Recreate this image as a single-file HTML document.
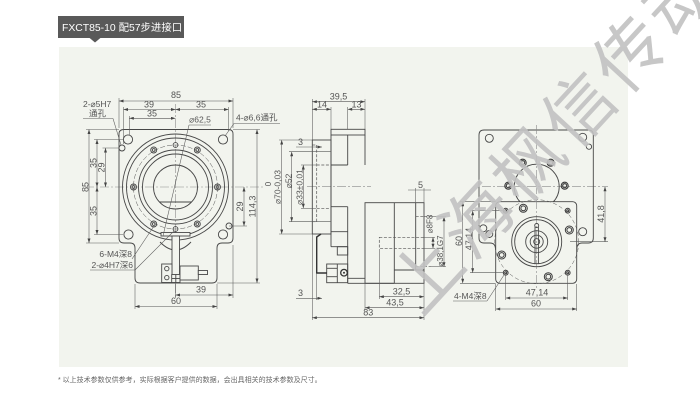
<!DOCTYPE html>
<html><head><meta charset="utf-8">
<style>
html,body{margin:0;padding:0;background:#fff;}
body{width:700px;height:402px;overflow:hidden;position:relative;}
svg{position:absolute;left:0;top:0;}
.l{stroke:#474747;stroke-width:0.9;fill:none;}
.lf{stroke:#474747;stroke-width:0.9;fill:#f2f4ee;}
.th{stroke:#5a5a5a;stroke-width:0.55;fill:none;}
.ds{stroke:#555;stroke-width:0.7;fill:none;stroke-dasharray:3 1.6;}
.cl{stroke:#8a8a8a;stroke-width:0.6;fill:none;stroke-dasharray:9 2 2 2;}
.dm{stroke:#555;stroke-width:0.55;fill:none;marker-start:url(#a);marker-end:url(#a);}
.h{stroke:#3e3e3e;stroke-width:1.1;fill:none;}
text{font-family:"Liberation Sans","DejaVu Sans","Noto Sans CJK SC",sans-serif;fill:#555;font-size:9px;}
.ck{font-family:"Liberation Sans","Noto Sans CJK SC",sans-serif;}
</style></head><body>
<svg width="700" height="402" viewBox="0 0 700 402" xmlns="http://www.w3.org/2000/svg">
<defs>
<marker id="a" viewBox="0 0 6 4" refX="6" refY="2" markerWidth="5" markerHeight="3" orient="auto-start-reverse" markerUnits="userSpaceOnUse"><path d="M0,0L6,2L0,4z" fill="#444"/></marker>
</defs>

<!-- title -->
<rect x="58" y="16" width="126" height="22" fill="#595959"/>
<path d="M89,37.5 L101,37.5 L95,42.5 Z" fill="#595959"/>
<text x="62" y="31" class="ck" style="fill:#fff;font-size:10.4px;">FXCT85-10 配57步进接口</text>

<!-- panel -->
<rect x="59" y="47" width="569" height="320" fill="#f2f4ee"/>

<!-- footnote -->
<text x="58" y="382" class="ck" style="font-size:7px;fill:#666;">* 以上技术参数仅供参考，实际根据客户提供的数据，会出具相关的技术参数及尺寸。</text>

<!-- ================= LEFT VIEW ================= -->
<line class="cl" x1="85" y1="187" x2="264" y2="187"/>
<line class="cl" x1="175.5" y1="104" x2="175.5" y2="298"/>
<path class="l" d="M124,129.5 H228.5 Q233,129.5 233,134 V238 Q233,243 228,243 H222 Q217,243 217,248 V278 Q217,283 212,283 H140 Q135,283 135,278 V248 Q135,243 130,243 H124 Q119,243 119,238 V134 Q119,129.5 124,129.5 Z"/>
<circle class="l" cx="175.5" cy="187" r="53"/>
<circle class="l" cx="175.5" cy="187" r="49"/>
<circle class="ds" cx="175.5" cy="187" r="42" style="stroke-width:0.5;stroke-dasharray:5 2"/>
<circle class="l" cx="175.5" cy="187" r="37"/>
<circle class="l" cx="175.5" cy="187" r="33"/>
<circle class="l" cx="175.5" cy="187" r="22"/>
<line class="l" x1="159.5" y1="202" x2="191.5" y2="202"/>
<g class="l">
<circle cx="153.7" cy="150" r="3"/><circle cx="153.7" cy="150" r="1.4"/>
<circle cx="197.3" cy="150" r="3"/><circle cx="197.3" cy="150" r="1.4"/>
<circle cx="133.5" cy="187" r="3"/><circle cx="133.5" cy="187" r="1.4"/>
<circle cx="217.5" cy="187" r="3"/><circle cx="217.5" cy="187" r="1.4"/>
<circle cx="153.7" cy="224" r="3"/><circle cx="153.7" cy="224" r="1.4"/>
<circle cx="197.3" cy="224" r="3"/><circle cx="197.3" cy="224" r="1.4"/>
<circle cx="175.5" cy="145" r="2.4"/><circle cx="175.5" cy="229" r="2.4"/>
<circle cx="128" cy="139.5" r="4.6"/><circle cx="223" cy="139.5" r="4.6"/>
<circle cx="128.5" cy="234.5" r="4.6"/><circle cx="223" cy="234.5" r="4.6"/>
<circle cx="122" cy="148" r="3"/><circle cx="229" cy="226" r="3"/>
</g>
<!-- lower mechanism -->
<path class="l" d="M160,242 Q175.5,258 191,242"/>
<rect class="lf" x="161" y="232.5" width="29" height="3.5"/>
<rect class="lf" x="172" y="236" width="7.5" height="46.5"/>
<rect class="lf" x="161.7" y="264" width="10.3" height="18.5"/>
<circle class="l" cx="166.8" cy="268.6" r="2.2"/><circle class="l" cx="166.8" cy="277.6" r="2.2"/>
<rect class="lf" x="171.7" y="274.5" width="8.3" height="8"/>
<line class="l" x1="175.8" y1="274.5" x2="175.8" y2="282.5"/><line class="l" x1="171.7" y1="278.5" x2="180" y2="278.5"/>
<rect class="lf" x="180" y="266" width="18.3" height="14"/>
<rect class="lf" x="198.3" y="270.5" width="9.2" height="4"/>

<!-- left view dims top -->
<g class="th">
<line x1="119" y1="98" x2="119" y2="128"/><line x1="233" y1="98" x2="233" y2="128"/>
<line x1="123.5" y1="107" x2="123.5" y2="144"/><line x1="228.5" y1="107" x2="228.5" y2="131"/>
<line x1="129.3" y1="116" x2="129.3" y2="135"/>
</g>
<line class="dm" x1="119" y1="101" x2="233" y2="101"/>
<text x="176" y="98" text-anchor="middle">85</text>
<line class="dm" x1="123.5" y1="109.5" x2="175.5" y2="109.5"/>
<text x="149" y="107.5" text-anchor="middle">39</text>
<line class="dm" x1="175.5" y1="109.5" x2="228.5" y2="109.5"/>
<text x="201" y="107.5" text-anchor="middle">35</text>
<line class="dm" x1="129.3" y1="118.3" x2="175.5" y2="118.3"/>
<text x="152" y="116.3" text-anchor="middle">35</text>
<text x="200" y="122.5" text-anchor="middle" style="font-size:8.5px">⌀62,5</text>
<g class="th"><line x1="189" y1="125" x2="211" y2="125"/><line x1="189" y1="125" x2="163" y2="236"/></g>
<text x="236" y="120.5" class="ck" style="font-size:8.5px">4-⌀6,6通孔</text>
<g class="th"><line x1="234" y1="123.5" x2="280" y2="123.5"/><line x1="234" y1="123.5" x2="225" y2="136"/></g>
<text x="83" y="107" class="ck" style="font-size:8.5px">2-⌀5H7</text>
<text x="89" y="116.5" class="ck" style="font-size:8.5px">通孔</text>
<g class="th"><line x1="83" y1="118.5" x2="113" y2="118.5"/><line x1="113" y1="118.5" x2="121" y2="145"/></g>

<!-- left vertical dims -->
<g class="th">
<line x1="86" y1="129.5" x2="119" y2="129.5"/><line x1="86" y1="243" x2="119" y2="243"/>
<line x1="94" y1="139.5" x2="123" y2="139.5"/><line x1="94" y1="234.5" x2="123" y2="234.5"/>
<line x1="102.5" y1="148" x2="119" y2="148"/>
<line x1="229" y1="226" x2="247" y2="226"/>
<line x1="233" y1="129.5" x2="260" y2="129.5"/><line x1="217" y1="283" x2="260" y2="283"/>
</g>
<line class="dm" x1="89" y1="129.5" x2="89" y2="243"/>
<text transform="translate(85.5,187) rotate(-90)" text-anchor="middle" dominant-baseline="central">85</text>
<line class="dm" x1="97" y1="139.5" x2="97" y2="187"/>
<text transform="translate(93.5,163) rotate(-90)" text-anchor="middle" dominant-baseline="central">35</text>
<line class="dm" x1="97" y1="187" x2="97" y2="234.5"/>
<text transform="translate(93.5,211) rotate(-90)" text-anchor="middle" dominant-baseline="central">35</text>
<line class="dm" x1="105.5" y1="148" x2="105.5" y2="187"/>
<text transform="translate(101.5,167.5) rotate(-90)" text-anchor="middle" dominant-baseline="central">29</text>
<line class="dm" x1="244" y1="187" x2="244" y2="226"/>
<text transform="translate(240,206.5) rotate(-90)" text-anchor="middle" dominant-baseline="central">29</text>
<line class="dm" x1="257" y1="129.5" x2="257" y2="283"/>
<text transform="translate(252.5,206.5) rotate(-90)" text-anchor="middle" dominant-baseline="central">114,3</text>

<!-- left bottom dims -->
<g class="th">
<line x1="233" y1="245" x2="233" y2="298"/><line x1="175.5" y1="283" x2="175.5" y2="298"/>
<line x1="135" y1="284" x2="135" y2="309"/><line x1="217" y1="284" x2="217" y2="309"/>
</g>
<line class="dm" x1="175.5" y1="295" x2="233" y2="295"/>
<text x="201" y="292.5" text-anchor="middle">39</text>
<line class="dm" x1="135" y1="306.5" x2="217" y2="306.5"/>
<text x="176" y="304" text-anchor="middle">60</text>
<text x="132" y="257" text-anchor="end" class="ck" style="font-size:8.5px">6-M4深8</text>
<text x="133" y="268" text-anchor="end" class="ck" style="font-size:8.5px">2-⌀4H7深6</text>
<g class="th">
<line x1="90" y1="270" x2="135" y2="270"/>
<line x1="132" y1="259" x2="154" y2="226"/>
<line x1="135" y1="270" x2="174" y2="231"/>
</g>

<!-- ================= SIDE VIEW ================= -->
<line class="cl" x1="307" y1="186.7" x2="371" y2="186.7"/>
<rect class="l" x="312.3" y="140" width="18.7" height="94"/>
<g class="ds">
<line x1="316.7" y1="145" x2="316.7" y2="221.7"/>
<line x1="312.3" y1="145" x2="316.7" y2="145"/><line x1="312.3" y1="221.7" x2="316.7" y2="221.7"/>
<line x1="316.7" y1="165" x2="331" y2="165"/><line x1="316.7" y1="208.3" x2="331" y2="208.3"/>
</g>
<g class="l">
<rect x="331" y="129.3" width="34" height="5.7"/>
<line x1="331" y1="135" x2="331" y2="246.7"/>
<line x1="347.7" y1="135" x2="347.7" y2="165"/>
<line x1="365" y1="135" x2="365" y2="165"/>
<line x1="331" y1="165" x2="347.7" y2="165"/>
<line x1="331" y1="206.7" x2="347.7" y2="206.7"/>
<line x1="347.7" y1="206.7" x2="347.7" y2="283.3"/>
<line x1="331" y1="231.7" x2="347.7" y2="231.7"/>
<line x1="331" y1="246.7" x2="347.7" y2="246.7"/>
<rect x="337.3" y="246.7" width="10.4" height="8.3"/>
<rect x="326.7" y="264" width="21" height="18.7"/>
<line x1="326.7" y1="268.3" x2="337.3" y2="268.3"/><line x1="326.7" y1="276.7" x2="337.3" y2="276.7"/>
<line x1="337.3" y1="264" x2="337.3" y2="282.7"/>
<line x1="347.7" y1="283.3" x2="394.3" y2="283.3"/>
<line x1="347.7" y1="278.3" x2="365" y2="278.3"/>
<rect x="365" y="202.7" width="59" height="80.6"/>
<line x1="394.3" y1="202.7" x2="394.3" y2="283.3"/>
<line x1="415.7" y1="202.7" x2="415.7" y2="270"/>
<line x1="394.3" y1="270" x2="424" y2="270"/>
</g>
<circle cx="344" cy="272.7" r="3.3" style="stroke:#333;stroke-width:1.3;fill:none"/>
<circle cx="344" cy="272.7" r="1" fill="#333"/>
<path d="M321,234 L316.7,237 V273 H327" style="stroke:#333;stroke-width:1.4;fill:none"/>
<g class="ds">
<rect x="379.3" y="237.3" width="44.7" height="11"/>
<line x1="415.7" y1="216.7" x2="424" y2="216.7"/><line x1="415.7" y1="266.7" x2="424" y2="266.7"/>
<line x1="424" y1="216.7" x2="431" y2="216.7"/><line x1="424" y1="266.7" x2="431" y2="266.7"/>
</g>

<!-- side dims -->
<g class="th">
<line x1="312.3" y1="99" x2="312.3" y2="140"/><line x1="331" y1="107" x2="331" y2="129"/>
<line x1="347.7" y1="107" x2="347.7" y2="129"/><line x1="365" y1="99" x2="365" y2="129"/>
<line x1="279" y1="140" x2="312.3" y2="140"/><line x1="279" y1="234" x2="312.3" y2="234"/>
<line x1="289" y1="151.7" x2="331" y2="151.7"/><line x1="289" y1="221.7" x2="331" y2="221.7"/>
<line x1="301" y1="165" x2="316" y2="165"/><line x1="301" y1="208.3" x2="316" y2="208.3"/>
<line x1="312.3" y1="234" x2="312.3" y2="320"/><line x1="424" y1="270" x2="424" y2="320"/>
<line x1="365" y1="283" x2="365" y2="310"/><line x1="379.3" y1="249" x2="379.3" y2="299"/>
<line x1="316.7" y1="273" x2="316.7" y2="300"/>
<line x1="415.7" y1="188" x2="415.7" y2="203"/><line x1="424" y1="188" x2="424" y2="203"/>
<line x1="424" y1="237.3" x2="435" y2="237.3"/><line x1="424" y1="248.3" x2="435" y2="248.3"/>
<line x1="431" y1="216.7" x2="446" y2="216.7"/><line x1="431" y1="266.7" x2="446" y2="266.7"/>
</g>
<line class="dm" x1="312.3" y1="101.7" x2="365" y2="101.7"/>
<text x="338.5" y="99.3" text-anchor="middle">39,5</text>
<line class="dm" x1="312.3" y1="109.3" x2="331" y2="109.3"/>
<text x="322" y="107.3" text-anchor="middle">14</text>
<line class="dm" x1="347.7" y1="109.3" x2="365" y2="109.3"/>
<text x="356.5" y="107.3" text-anchor="middle">13</text>
<line class="th" x1="296" y1="147" x2="322" y2="147" style="marker-end:url(#a)"/>
<text x="300.5" y="145" text-anchor="middle">3</text>
<line class="dm" x1="281.7" y1="140" x2="281.7" y2="234"/>
<text transform="translate(268.5,184) rotate(-90)" text-anchor="middle" dominant-baseline="central" style="font-size:8px">0</text>
<text transform="translate(277.5,187) rotate(-90)" text-anchor="middle" dominant-baseline="central" style="font-size:8.5px">⌀70-0,03</text>
<line class="dm" x1="291.7" y1="151.7" x2="291.7" y2="221.7"/>
<text transform="translate(288.5,181) rotate(-90)" text-anchor="middle" dominant-baseline="central" style="font-size:8.5px">⌀52</text>
<line class="dm" x1="303.3" y1="165" x2="303.3" y2="208.3"/>
<text transform="translate(299.5,187) rotate(-90)" text-anchor="middle" dominant-baseline="central" style="font-size:8.5px">⌀33±0,01</text>
<line class="th" x1="296" y1="298.3" x2="322" y2="298.3" style="marker-end:url(#a)"/>
<text x="300.5" y="296" text-anchor="middle">3</text>
<line class="dm" x1="379.3" y1="296.7" x2="424" y2="296.7"/>
<text x="401.5" y="294.3" text-anchor="middle">32,5</text>
<line class="dm" x1="365" y1="307.7" x2="424" y2="307.7"/>
<text x="395" y="305.3" text-anchor="middle">43,5</text>
<line class="dm" x1="312.3" y1="317.7" x2="424" y2="317.7"/>
<text x="368.3" y="315.3" text-anchor="middle">83</text>
<line class="th" x1="408" y1="190" x2="431" y2="190"/>
<text x="420.5" y="188" text-anchor="middle">5</text>
<line class="dm" x1="433" y1="237.3" x2="433" y2="248.3"/>
<text transform="translate(430,224) rotate(-90)" text-anchor="middle" dominant-baseline="central" style="font-size:8px">⌀8F8</text>
<line class="dm" x1="444" y1="216.7" x2="444" y2="266.7"/>
<text transform="translate(440.5,251) rotate(-90)" text-anchor="middle" dominant-baseline="central" style="font-size:8px">⌀38,1G7</text>

<!-- ================= RIGHT VIEW ================= -->
<line class="cl" x1="482" y1="186.7" x2="608" y2="186.7"/>
<path class="l" d="M495.7,250 Q495.7,243 490,243 H484 Q479,243 479,238 V135 Q479,130 484,130 H588.3 Q593.3,130 593.3,135 V238 Q593.3,243 588.3,243 H582 Q576.7,243 576.7,250"/>
<circle class="l" cx="536.7" cy="186.7" r="22.5"/>
<g style="stroke:#3a3a3a;stroke-width:1.1;fill:none">
<circle cx="522.7" cy="162.7" r="3.5"/><circle cx="522.7" cy="162.7" r="2"/>
<circle cx="550.7" cy="162.7" r="3.5"/><circle cx="550.7" cy="162.7" r="2"/>
<circle cx="508.3" cy="185.7" r="3.5"/><circle cx="508.3" cy="185.7" r="2"/>
<circle cx="564.7" cy="185.7" r="3.5"/><circle cx="564.7" cy="185.7" r="2"/>
</g>
<g class="l">
<circle cx="489.3" cy="138.3" r="4"/><circle cx="582.7" cy="137.3" r="4"/><circle cx="589" cy="146.7" r="2.6"/>
<circle cx="483.3" cy="228.3" r="3.5"/><circle cx="489.3" cy="234" r="3.5"/><circle cx="582.7" cy="231.7" r="4"/>
</g>
<rect class="lf" x="495.7" y="201.7" width="81" height="81.6" rx="4"/>
<circle class="ds" cx="536.7" cy="241.7" r="42" style="stroke-width:0.5;stroke-dasharray:4 2.5"/>
<line class="cl" x1="536.7" y1="125" x2="536.7" y2="288"/>
<g class="l">
<circle cx="536.7" cy="241.7" r="25"/>
<circle cx="536.7" cy="241.7" r="22"/>
<circle cx="536.7" cy="241.7" r="11"/>
<circle cx="536.7" cy="241.7" r="6.5"/>
<circle cx="536.7" cy="241.7" r="3"/>
<line x1="535" y1="227" x2="535" y2="263.5"/><line x1="538.4" y1="227" x2="538.4" y2="263.5"/>
<circle cx="536.7" cy="225.5" r="2"/>
</g>
<g style="stroke:#3a3a3a;stroke-width:1;fill:none">
<circle cx="505.7" cy="210.7" r="2.4"/><circle cx="505.7" cy="210.7" r="1"/>
<circle cx="567.7" cy="210.7" r="2.4"/><circle cx="567.7" cy="210.7" r="1"/>
<circle cx="505.7" cy="272.7" r="2.4"/><circle cx="505.7" cy="272.7" r="1"/>
<circle cx="567.7" cy="272.7" r="2.4"/><circle cx="567.7" cy="272.7" r="1"/>
<circle cx="523.3" cy="208.3" r="4"/><circle cx="523.3" cy="208.3" r="2.4"/>
<circle cx="569.3" cy="230" r="4"/><circle cx="569.3" cy="230" r="2.4"/>
<circle cx="501.7" cy="255" r="4"/><circle cx="501.7" cy="255" r="2.4"/>
<circle cx="548.3" cy="276.7" r="4"/><circle cx="548.3" cy="276.7" r="2.4"/>
</g>
<!-- right dims -->
<g class="th">
<line x1="570" y1="241.7" x2="608" y2="241.7"/>
<line x1="460" y1="201.7" x2="495.7" y2="201.7"/><line x1="460" y1="283.3" x2="495.7" y2="283.3"/>
<line x1="470" y1="210.7" x2="503" y2="210.7"/><line x1="470" y1="272.7" x2="503" y2="272.7"/>
<line x1="505.7" y1="275" x2="505.7" y2="300"/><line x1="567.7" y1="275" x2="567.7" y2="300"/>
<line x1="495.7" y1="284" x2="495.7" y2="311"/><line x1="576.7" y1="284" x2="576.7" y2="311"/>
</g>
<line class="dm" x1="605" y1="186.7" x2="605" y2="241.7"/>
<text transform="translate(601,214) rotate(-90)" text-anchor="middle" dominant-baseline="central">41,8</text>
<line class="dm" x1="462.7" y1="201.7" x2="462.7" y2="283.3"/>
<text transform="translate(459,241) rotate(-90)" text-anchor="middle" dominant-baseline="central">60</text>
<line class="dm" x1="472.7" y1="210.7" x2="472.7" y2="272.7"/>
<text transform="translate(469,239) rotate(-90)" text-anchor="middle" dominant-baseline="central">47,14</text>
<line class="dm" x1="505.7" y1="298" x2="567.7" y2="298"/>
<text x="537" y="295.5" text-anchor="middle">47,14</text>
<line class="dm" x1="495.7" y1="309" x2="576.7" y2="309"/>
<text x="536" y="306.5" text-anchor="middle">60</text>
<text x="454" y="299" class="ck" style="font-size:8.5px">4-M4深8</text>
<g class="th"><line x1="453" y1="301" x2="487" y2="301"/><line x1="487" y1="301" x2="504" y2="275"/></g>

<!-- watermark -->
<text transform="translate(552,132) rotate(-47.3)" text-anchor="middle" dominant-baseline="central" style="font-family:'Noto Sans CJK SC','WenQuanYi Zen Hei',sans-serif;font-size:70px;fill:#c2c2c2;opacity:0.9;letter-spacing:5px;">上海枫信传动</text>
</svg>
</body></html>
